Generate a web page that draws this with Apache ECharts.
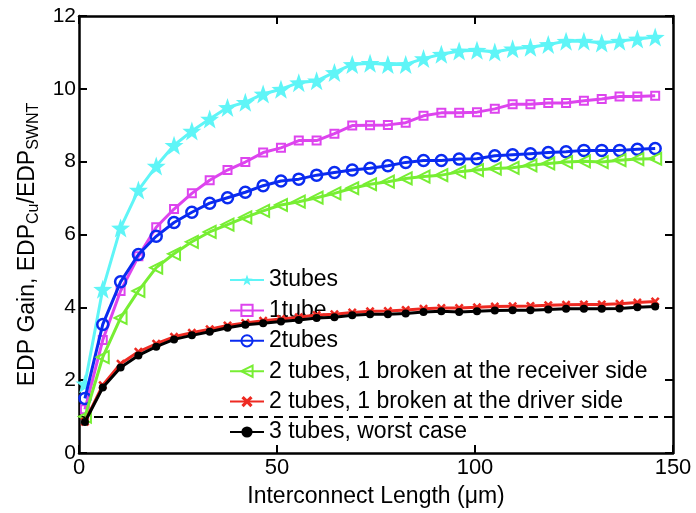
<!DOCTYPE html>
<html><head><meta charset="utf-8">
<script src="https://cdn.jsdelivr.net/npm/echarts@6/dist/echarts.min.js"></script>
<style>html,body{margin:0;padding:0;background:#fff}#c{width:696px;height:513px}</style>
</head><body><div id="c"></div>
<script>
const lengths = [1.5, 6, 10.5, 15, 19.5, 24, 28.5, 33, 37.5, 42, 46.5, 51, 55.5, 60, 64.5, 69, 73.5, 78, 82.5, 87, 91.5, 96, 100.5, 105, 109.5, 114, 118.5, 123, 127.5, 132, 136.5, 141, 145.5];
const tubes3 = [1.9, 4.5, 6.18, 7.22, 7.88, 8.45, 8.84, 9.17, 9.49, 9.63, 9.86, 9.99, 10.17, 10.22, 10.45, 10.67, 10.7, 10.67, 10.67, 10.83, 10.95, 11.04, 11.06, 11.01, 11.1, 11.14, 11.22, 11.31, 11.31, 11.26, 11.31, 11.37, 11.42];
const tube1 = [1.2, 3.1, 4.45, 5.4, 6.2, 6.7, 7.13, 7.49, 7.77, 7.99, 8.25, 8.38, 8.58, 8.58, 8.77, 8.99, 9.0, 9.01, 9.07, 9.26, 9.34, 9.34, 9.36, 9.45, 9.58, 9.58, 9.61, 9.61, 9.67, 9.72, 9.79, 9.79, 9.81];
const tubes2 = [1.5, 3.53, 4.7, 5.45, 5.95, 6.33, 6.61, 6.86, 7.01, 7.16, 7.34, 7.47, 7.52, 7.63, 7.70, 7.77, 7.82, 7.89, 7.98, 8.03, 8.03, 8.07, 8.08, 8.16, 8.19, 8.22, 8.25, 8.27, 8.31, 8.31, 8.31, 8.34, 8.36];
const brokenReceiver = [1.0, 2.63, 3.71, 4.45, 5.09, 5.47, 5.8, 6.07, 6.27, 6.47, 6.65, 6.81, 6.9, 7.01, 7.13, 7.27, 7.38, 7.45, 7.54, 7.59, 7.63, 7.72, 7.77, 7.81, 7.83, 7.90, 7.95, 7.99, 8.01, 7.99, 8.04, 8.07, 8.08];
const brokenDriver = [0.86, 1.86, 2.45, 2.78, 3.0, 3.19, 3.30, 3.40, 3.5, 3.57, 3.63, 3.68, 3.73, 3.79, 3.81, 3.86, 3.89, 3.9, 3.93, 3.96, 3.98, 3.98, 4.0, 4.02, 4.03, 4.04, 4.06, 4.07, 4.08, 4.08, 4.1, 4.13, 4.16];
const worstCase = [0.85, 1.8, 2.35, 2.68, 2.92, 3.12, 3.23, 3.33, 3.44, 3.52, 3.56, 3.61, 3.65, 3.71, 3.73, 3.78, 3.81, 3.81, 3.83, 3.87, 3.89, 3.87, 3.89, 3.91, 3.92, 3.92, 3.94, 3.96, 3.96, 3.96, 3.97, 4.0, 4.02];
const seriesNames = ['3tubes', '1tube', '2tubes', '2 tubes, 1 broken at the receiver side', '2 tubes, 1 broken at the driver side', '3 tubes, worst case'];
const referenceLevel = 1;
const xTicks = [0, 50, 100, 150];
const yTicks = [0, 2, 4, 6, 8, 10, 12];

const FONT = 'Liberation Sans';
const STAR = 'path://M10,0L12.35,6.76L19.51,6.91L13.8,11.24L15.88,18.09L10,14L4.12,18.09L6.2,11.24L0.49,6.91L7.65,6.76Z';
const CROSS = 'path://M0,2L2,0L5,3L8,0L10,2L7,5L10,8L8,10L5,7L2,10L0,8L3,5Z';
const TRI = 'path://M0,5L10,0L10,10Z';

function pairs(ys){ return ys.map((y,i)=>[lengths[i], y]); }

const styles = [
  {color:'#5ff5f7', symbol:STAR, size:19, fill:'#5ff5f7', bw:0},
  {color:'#dd44ee', symbol:'rect', size:8, fill:'rgba(0,0,0,0)', bw:2},
  {color:'#0a2bf0', symbol:'circle', size:11, fill:'rgba(0,0,0,0)', bw:2.5},
  {color:'#77ee33', symbol:TRI, size:12, fill:'rgba(0,0,0,0)', bw:2},
  {color:'#ee2a22', symbol:CROSS, size:9, fill:'#ee2a22', bw:0},
  {color:'#000000', symbol:'circle', size:8, fill:'#000000', bw:0}
];
const datasets = [tubes3, tube1, tubes2, brokenReceiver, brokenDriver, worstCase];

const series = datasets.map((d,k)=>{
  const s = styles[k];
  return {
    name: seriesNames[k], type:'line', data: pairs(d),
    symbol: s.symbol, symbolSize: s.size, showAllSymbol: true,
    lineStyle:{color:s.color, width:3},
    itemStyle:{color:s.fill, borderColor:s.color, borderWidth:s.bw},
    emphasis:{disabled:true}, animation:false, z: 3+k
  };
});
series.push({
  type:'line', data:[], silent:true, animation:false,
  markLine:{silent:true, symbol:['none','none'], label:{show:false},
    lineStyle:{color:'#000', type:[9,6], width:2},
    data:[{yAxis: referenceLevel}]}
});

const chart = echarts.init(document.getElementById('c'), null, {renderer:'canvas'});
const axisCommon = {
  axisLine:{show:true, onZero:false, lineStyle:{color:'#000', width:2.5}},
  axisTick:{show:true, inside:true, length:8, lineStyle:{color:'#000', width:2}},
  splitLine:{show:false}
};
chart.setOption({
  backgroundColor:'#fff',
  textStyle:{fontFamily:FONT},
  grid:{left:79, right:23, top:16, bottom:56, show:false},
  legend:{
    orient:'vertical', left:229, top:268, padding:0, itemWidth:34, itemHeight:14, itemGap:6.4,
    data: seriesNames,
    textStyle:{fontFamily:FONT, fontSize:23, color:'#000', lineHeight:24},
    selectedMode:false
  },
  xAxis:[
    Object.assign({type:'value', min:xTicks[0], max:xTicks[xTicks.length-1], interval:50, position:'bottom',
      name:'Interconnect Length (\u03bcm)', nameLocation:'middle', nameGap:32,
      nameTextStyle:{fontFamily:FONT, fontSize:23, color:'#000'},
      axisLabel:{fontFamily:FONT, fontSize:22, color:'#000', margin:4}}, axisCommon),
    Object.assign({type:'value', min:0, max:150, interval:50, position:'top', axisLabel:{show:false}}, axisCommon)
  ],
  yAxis:[
    Object.assign({type:'value', min:yTicks[0], max:yTicks[yTicks.length-1], interval:2, position:'left',
      name:'{a|EDP Gain, EDP}{s|Cu}{a|/EDP}{s|SWNT}', nameLocation:'middle', nameGap:34, nameRotate:90,
      nameTextStyle:{fontFamily:FONT, fontSize:23, color:'#000', padding:[0,20,0,0],
        rich:{a:{fontFamily:FONT, fontSize:23, color:'#000'}, s:{fontFamily:FONT, fontSize:16, color:'#000', padding:[13,0,0,0]}}},
      axisLabel:{fontFamily:FONT, fontSize:21, color:'#000', margin:3}}, axisCommon),
    Object.assign({type:'value', min:0, max:12, interval:2, position:'right', axisLabel:{show:false}}, axisCommon)
  ],
  series: series
});
</script></body></html>
